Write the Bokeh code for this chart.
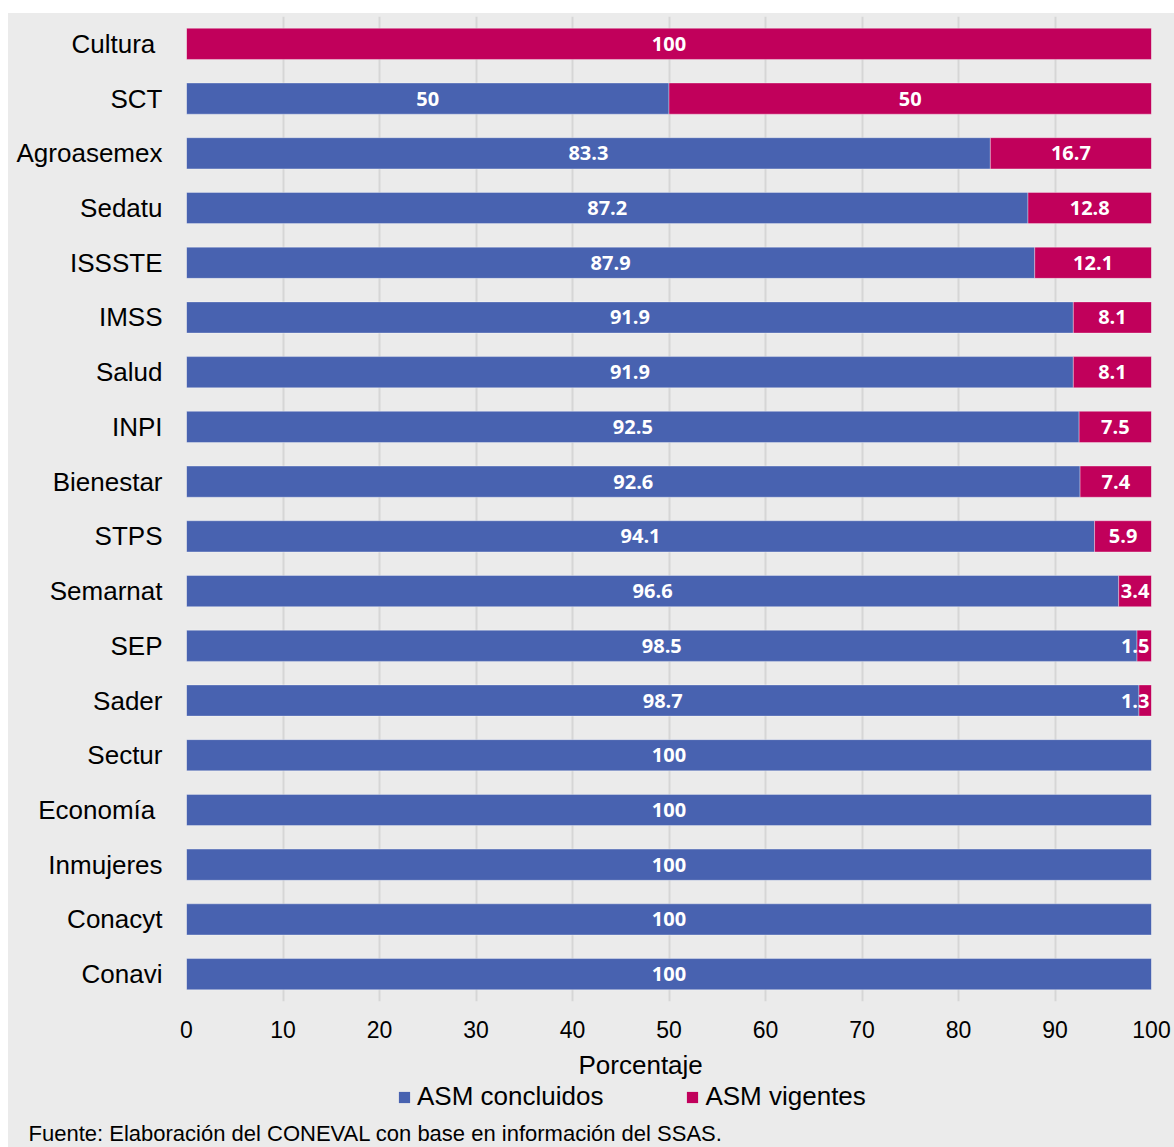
from bokeh.plotting import figure
from bokeh.models import (ColumnDataSource, FactorRange, Range1d, Legend, LegendItem,
                          Title, FixedTicker, Spacer)
from bokeh.layouts import column, row
from bokeh.embed import file_html
from bokeh.resources import INLINE
from bokeh.core.properties import value

categories = ["Cultura\u00a0", "SCT", "Agroasemex", "Sedatu", "ISSSTE", "IMSS", "Salud",
              "INPI", "Bienestar", "STPS", "Semarnat", "SEP", "Sader", "Sectur",
              "Economía\u00a0", "Inmujeres", "Conacyt", "Conavi"]
concluidos = [0, 50, 83.3, 87.2, 87.9, 91.9, 91.9, 92.5, 92.6, 94.1, 96.6, 98.5, 98.7,
              100, 100, 100, 100, 100]
vigentes = [100, 50, 16.7, 12.8, 12.1, 8.1, 8.1, 7.5, 7.4, 5.9, 3.4, 1.5, 1.3,
            0, 0, 0, 0, 0]
x_ticks = [0, 10, 20, 30, 40, 50, 60, 70, 80, 90, 100]
series_names = ["ASM concluidos", "ASM vigentes"]
x_title = "Porcentaje"
source_note = "Fuente: Elaboración del CONEVAL con base en información del SSAS."

BLUE = "#4862B0"
MAGENTA = "#C1005B"
BG = "#EBEBEB"
W = 1166
H_MAIN = 1034
H_FOOT = 1147 - 13 - H_MAIN


def fmt(v):
    return f"{v:g}"


c_src = ColumnDataSource(dict(
    cat=[c for c, v in zip(categories, concluidos) if v > 0],
    left=[0 for v in concluidos if v > 0],
    right=[v for v in concluidos if v > 0],
    tx=[v / 2 for v in concluidos if v > 0],
    label=[fmt(v) for v in concluidos if v > 0],
))
v_cat, v_left, v_right, v_tx, v_lab, v_align, v_off = [], [], [], [], [], [], []
for c, a, b in zip(categories, concluidos, vigentes):
    if b > 0:
        v_cat.append(c)
        v_left.append(a)
        v_right.append(a + b)
        v_lab.append(fmt(b))
        if b < 2:
            v_tx.append(a + b)
            v_align.append("right")
            v_off.append(-2)
        else:
            v_tx.append(a + b / 2)
            v_align.append("center")
            v_off.append(0)
v_src = ColumnDataSource(dict(cat=v_cat, left=v_left, right=v_right, tx=v_tx,
                              label=v_lab, align=v_align, off=v_off))

p = figure(width=W, height=H_MAIN, output_backend="svg", toolbar_location=None,
           x_range=Range1d(0, 100),
           y_range=FactorRange(*list(reversed(categories)), range_padding=0),
           min_border_left=178, min_border_right=23, min_border_top=3,
           min_border_bottom=46, styles={"background-color": BG})
p.background_fill_color = BG
p.border_fill_color = BG
p.outline_line_color = None

p.xgrid.ticker = FixedTicker(ticks=x_ticks)
p.xgrid.grid_line_color = "#D6D6D6"
p.xgrid.grid_line_width = 2
p.ygrid.grid_line_color = None

BAR_H = 0.57
bar_style = dict(line_color="white", line_alpha=0.35, line_width=1)
p.hbar(y="cat", left="left", right="right", height=BAR_H, source=c_src,
       fill_color=BLUE, **bar_style)
p.hbar(y="cat", left="left", right="right", height=BAR_H, source=v_src,
       fill_color=MAGENTA, **bar_style)

p.text(x="tx", y="cat", text="label", source=c_src, text_color="white",
       text_font=value("Open Sans"), text_font_style="bold", text_font_size="20px",
       text_align="center", text_baseline="middle")
p.text(x="tx", y="cat", text="label", source=v_src, text_color="white",
       text_font=value("Open Sans"), text_font_style="bold", text_font_size="20px",
       text_align="align", x_offset="off", text_baseline="middle")

xa = p.xaxis[0]
xa.ticker = FixedTicker(ticks=x_ticks)
xa.axis_line_color = None
xa.major_tick_line_color = None
xa.minor_tick_line_color = None
xa.major_tick_out = 0
xa.major_tick_in = 0
xa.major_label_standoff = 19
xa.major_label_text_font = "Liberation Sans"
xa.major_label_text_font_size = "23px"
xa.major_label_text_color = "#000000"

ya = p.yaxis[0]
ya.axis_line_color = None
ya.major_tick_line_color = None
ya.major_tick_out = 0
ya.major_tick_in = 0
ya.major_label_standoff = 24
ya.major_label_text_font = "Liberation Sans"
ya.major_label_text_font_size = "26px"
ya.major_label_text_color = "#000000"

# axis title, legend and source note strip (frame aligned with the main plot)
f = figure(width=W, height=H_FOOT, output_backend="svg", toolbar_location=None,
           x_range=Range1d(0, 1), y_range=Range1d(0, 1),
           x_axis_type=None, y_axis_type=None,
           min_border_left=178, min_border_right=23, min_border_top=0,
           min_border_bottom=0, styles={"background-color": BG})
f.background_fill_color = BG
f.border_fill_color = BG
f.outline_line_color = None
f.xgrid.visible = False
f.ygrid.visible = False
nan = float("nan")
proxy = dict(y=[nan], left=[nan], right=[nan])
g1 = f.hbar(y="y", left="left", right="right", height=0.5,
            source=ColumnDataSource(proxy), fill_color=BLUE, line_color=None)
g2 = f.hbar(y="y", left="left", right="right", height=0.5,
            source=ColumnDataSource(proxy), fill_color=MAGENTA, line_color=None)

f.add_layout(Title(text=x_title, align="left", offset=392, standoff=0,
                   text_font="Liberation Sans", text_font_size="26px",
                   text_font_style="normal", text_color="black"), "above")

legend = Legend(items=[LegendItem(label=series_names[0], renderers=[g1]),
                       LegendItem(label=series_names[1], renderers=[g2])],
                orientation="horizontal", location=(211, 5),
                glyph_width=14, glyph_height=14, label_standoff=6, spacing=82,
                padding=0, margin=0, border_line_color=None,
                background_fill_alpha=0, label_text_font="Liberation Sans",
                label_text_font_size="26px", label_text_color="black",
                label_height=26)
f.add_layout(legend, "center")

f.add_layout(Title(text=source_note, align="left", offset=-158, standoff=3,
                   text_font="Liberation Sans", text_font_size="22px",
                   text_font_style="normal", text_color="black"), "below")

chart = column(p, f, spacing=0, styles={"background-color": BG})
layout = row(Spacer(width=8, height=1147),
             column(Spacer(width=W, height=13), chart, spacing=0), spacing=0)
open("out.html", "w").write(file_html(layout, INLINE))
